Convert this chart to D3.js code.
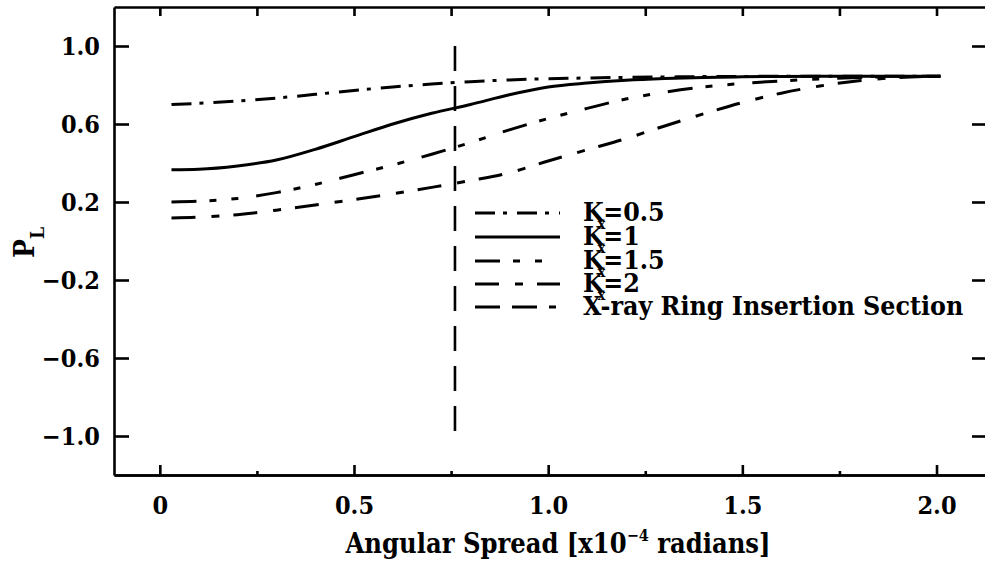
<!DOCTYPE html>
<html>
<head>
<meta charset="utf-8">
<script src="https://cdn.jsdelivr.net/npm/d3@7"></script>
<style>
  body { margin: 0; background: #fff; }
  svg { display: block; }
  text { font-family: 'DejaVu Serif Condensed', 'DejaVu Serif', serif; font-weight: bold; fill: #000; }
</style>
</head>
<body>
<svg id="chart" width="985" height="564"></svg>
<script>
/* global d3 */

// angular spread, x10^-4 radians
const spread = [0.03, 0.1, 0.2, 0.3, 0.4, 0.5, 0.6, 0.7, 0.8, 0.9, 1.0, 1.1, 1.2, 1.3, 1.4, 1.5, 1.6, 1.7, 1.8, 1.9, 2.01]
const kx05 = [0.700, 0.706, 0.718, 0.733, 0.752, 0.772, 0.790, 0.805, 0.817, 0.826, 0.832, 0.836, 0.839, 0.841, 0.843, 0.844, 0.845, 0.845, 0.845, 0.845, 0.845]
const kx1 = [0.365, 0.368, 0.385, 0.415, 0.470, 0.535, 0.600, 0.655, 0.700, 0.750, 0.790, 0.810, 0.824, 0.833, 0.839, 0.842, 0.844, 0.845, 0.845, 0.845, 0.845]
const kx15 = [0.200, 0.204, 0.218, 0.248, 0.290, 0.340, 0.390, 0.445, 0.505, 0.570, 0.628, 0.680, 0.728, 0.763, 0.790, 0.808, 0.821, 0.831, 0.838, 0.843, 0.845]
const kx2 = [0.118, 0.122, 0.135, 0.158, 0.185, 0.212, 0.242, 0.275, 0.310, 0.350, 0.410, 0.468, 0.525, 0.590, 0.652, 0.710, 0.758, 0.795, 0.822, 0.838, 0.845]
const xrayAt = [0.76, 0.76]
const xrayP = [1.0, -1.0]

const xMajor = [0, 0.5, 1.0, 1.5, 2.0]
const xMinor = [0.25, 0.75, 1.25, 1.75]
const yTicks = [-1.0, -0.6, -0.2, 0.2, 0.6, 1.0]

const series = [
  { name: '0.5', values: kx05, dash: '20,8,4,10' },
  { name: '1', values: kx1, dash: null },
  { name: '1.5', values: kx15, dash: '25,13,7,15,7,18' },
  { name: '2', values: kx2, dash: '24,16,8,14' }
]

const svg = d3.select('#chart')
const x = d3.scaleLinear().domain([-0.118, 2.13]).range([114, 987])
const y = d3.scaleLinear().domain([-1.2, 1.2]).range([475, 7])

const line = d3.line()
  .x(d => x(d[0]))
  .y(d => y(d[1]))
  .curve(d3.curveMonotoneX)

function styleAxis(g) {
  g.attr('font-family', null)
  g.selectAll('path, line').attr('stroke', '#000').attr('stroke-width', 2.6)
  g.selectAll('text').attr('font-size', 25).attr('fill', '#000')
}

// bottom axis, major with labels, minor without
svg.append('g')
  .attr('transform', 'translate(0,475)')
  .call(d3.axisBottom(x).tickValues(xMajor).tickSize(-10).tickSizeOuter(0).tickPadding(21)
    .tickFormat(d => d === 0 ? '0' : d3.format('.1f')(d)))
  .call(styleAxis)
svg.append('g')
  .attr('transform', 'translate(0,475)')
  .call(d3.axisBottom(x).tickValues(xMinor).tickSize(-4).tickSizeOuter(0).tickFormat(''))
  .call(styleAxis)

// top axis
svg.append('g')
  .attr('transform', 'translate(0,7)')
  .call(d3.axisTop(x).tickValues(xMajor.concat(xMinor)).tickSize(-9).tickSizeOuter(0).tickFormat(''))
  .call(styleAxis)

// left axis
svg.append('g')
  .attr('transform', 'translate(114,0)')
  .call(d3.axisLeft(y).tickValues(yTicks).tickSize(-15).tickSizeOuter(0).tickPadding(14)
    .tickFormat(d3.format('.1f')))
  .call(styleAxis)

// right axis (frame edge sits just outside the picture)
svg.append('g')
  .attr('transform', 'translate(987,0)')
  .call(d3.axisRight(y).tickValues(yTicks).tickSize(-15).tickSizeOuter(0).tickFormat(''))
  .call(styleAxis)

// curves
svg.append('g').selectAll('path')
  .data(series)
  .join('path')
  .attr('d', s => line(spread.map((v, i) => [v, s.values[i]])))
  .attr('fill', 'none')
  .attr('stroke', '#000')
  .attr('stroke-width', 3)
  .attr('stroke-dasharray', s => s.dash)

// x-ray ring insertion section marker
const xrayDash = '25,15'
svg.append('path')
  .attr('d', line.curve(d3.curveLinear)(xrayAt.map((v, i) => [v, xrayP[i]])))
  .attr('fill', 'none')
  .attr('stroke', '#000')
  .attr('stroke-width', 2.6)
  .attr('stroke-dasharray', xrayDash)

// legend
const legendRows = [213, 237, 261, 284, 307]
const legend = svg.append('g')
const entries = series.map(s => ({ dash: s.dash, k: s.name })).concat([{ dash: '25,12,25,12,7,12', k: null }])

entries.forEach((e, i) => {
  const ry = legendRows[i]
  legend.append('line')
    .attr('x1', 475).attr('x2', 560)
    .attr('y1', ry).attr('y2', ry)
    .attr('stroke', '#000').attr('stroke-width', 3)
    .attr('stroke-dasharray', e.dash)
  const t = legend.append('text')
    .attr('x', 583).attr('y', ry + 8)
    .attr('font-size', 26.5)
  if (e.k) {
    t.append('tspan').text('K')
    t.append('tspan').attr('dx', -6).attr('dy', 8).attr('font-size', 14).text('x')
    t.append('tspan').attr('dx', -2).attr('dy', -8).text('=' + e.k)
  } else {
    t.text('X-ray Ring Insertion Section')
  }
})

// axis titles
const xt = svg.append('text')
  .attr('x', 558).attr('y', 553)
  .attr('text-anchor', 'middle')
  .attr('font-size', 27)
xt.append('tspan').text('Angular Spread [x10')
xt.append('tspan').attr('dy', -12).attr('font-size', 16).text('−4')
xt.append('tspan').attr('dy', 12).text(' radians]')

const yt = svg.append('text')
  .attr('transform', 'translate(34,258) rotate(-90)')
  .attr('font-size', 28)
yt.append('tspan').text('P')
yt.append('tspan').attr('dy', 10).attr('font-size', 19).text('L')
</script>
</body>
</html>
